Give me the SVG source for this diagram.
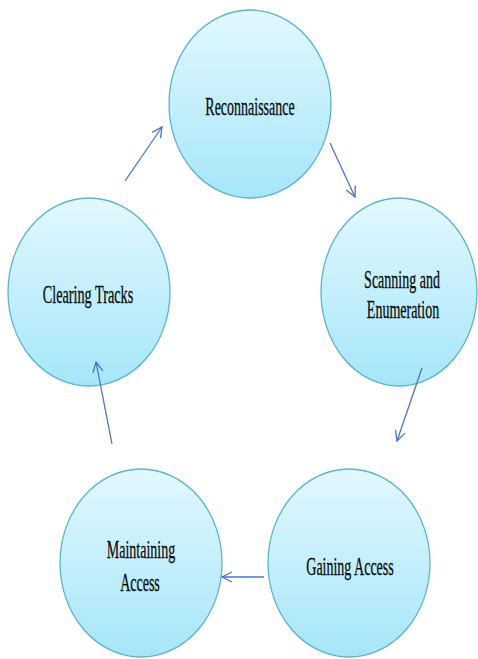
<svg xmlns="http://www.w3.org/2000/svg" width="478" height="659" viewBox="0 0 478 659">
  <defs>
    <linearGradient id="fill" x1="0" y1="0" x2="0" y2="1">
      <stop offset="0" stop-color="#e2f8fe"/>
      <stop offset="1" stop-color="#a6e6f9"/>
    </linearGradient>
    <marker id="arr" viewBox="0 0 12 12" refX="11" refY="6" markerWidth="12" markerHeight="12" markerUnits="userSpaceOnUse" orient="auto">
      <path d="M1,1 L11,6 L1,11" fill="none" stroke="#4f74b9" stroke-width="1.3"/>
    </marker>
  </defs>
  <style>
    .node ellipse { fill: url(#fill); stroke: #5cb3cb; stroke-width: 1.3; }
    .node text { font-family: "Liberation Serif", "Times New Roman", serif; font-size: 25px; fill: #0a0a0a; stroke: #0a0a0a; stroke-width: 0.3; text-anchor: middle; }
    .conn line { stroke: #4f74b9; stroke-width: 1.3; fill: none; marker-end: url(#arr); }
  </style>
  <rect width="478" height="659" fill="#ffffff"/>
  <g id="reconnaissance" class="node">
    <ellipse cx="250" cy="104" rx="81" ry="94"/>
    <text transform="translate(250 115) scale(0.56 1)">Reconnaissance</text>
  </g>
  <g id="scanning" class="node">
    <ellipse cx="399" cy="292" rx="78" ry="94"/>
    <text transform="translate(402 288) scale(0.56 1)">Scanning and</text>
    <text transform="translate(403 318) scale(0.56 1)">Enumeration</text>
  </g>
  <g id="gaining" class="node">
    <ellipse cx="349" cy="563" rx="81" ry="94"/>
    <text transform="translate(350 575) scale(0.56 1)">Gaining Access</text>
  </g>
  <g id="maintaining" class="node">
    <ellipse cx="141" cy="563" rx="81" ry="94"/>
    <text transform="translate(141 558) scale(0.56 1)">Maintaining</text>
    <text transform="translate(140 591) scale(0.56 1)">Access</text>
  </g>
  <g id="clearing" class="node">
    <ellipse cx="89" cy="292" rx="81" ry="94"/>
    <text transform="translate(88 303) scale(0.57 1)">Clearing Tracks</text>
  </g>
  <g id="connectors" class="conn">
    <line x1="330" y1="143" x2="355" y2="197"/>
    <line x1="422" y1="368" x2="397" y2="441"/>
    <line x1="264" y1="577" x2="222" y2="577"/>
    <line x1="112" y1="444" x2="96" y2="362"/>
    <line x1="125" y1="181" x2="162" y2="127"/>
  </g>
</svg>
